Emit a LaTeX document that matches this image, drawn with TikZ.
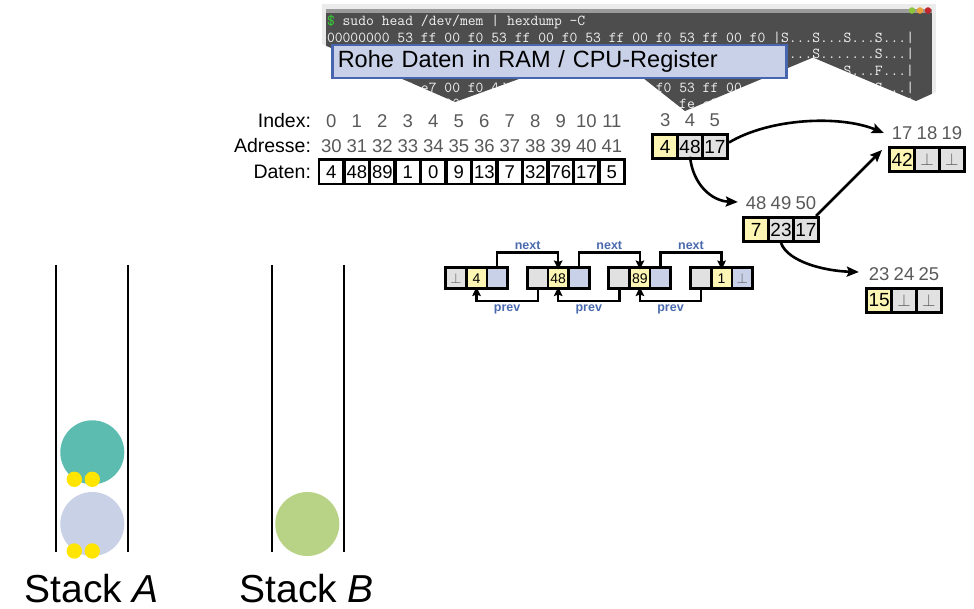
\documentclass[tikz,border=0pt]{standalone}
\usepackage{fontspec}
\setmainfont{Liberation Sans}
\usetikzlibrary{arrows.meta}

\definecolor{termbg}{HTML}{4D4D4D}
\definecolor{termbar}{HTML}{9B9B9B}
\definecolor{termframe}{HTML}{EBEBEB}
\definecolor{termtext}{HTML}{F2F2F2}
\definecolor{termprompt}{HTML}{33D633}
\definecolor{dotgreen}{HTML}{8CC63F}
\definecolor{dotorange}{HTML}{E8A33A}
\definecolor{dotred}{HTML}{C1272D}
\definecolor{tagfill}{HTML}{C9D1E8}
\definecolor{tagborder}{HTML}{4766AE}
\definecolor{numgray}{HTML}{595959}
\definecolor{cellyellow}{HTML}{FCF5B4}
\definecolor{cellgray}{HTML}{E1E1E1}
\definecolor{cellblue}{HTML}{C9D1E8}
\definecolor{linkblue}{HTML}{4A6AAE}
\definecolor{tealball}{HTML}{5DBCB0}
\definecolor{blueball}{HTML}{C9D1E6}
\definecolor{greenball}{HTML}{B8D385}
\definecolor{dotyellow}{HTML}{FFE500}

\newcommand\NilMark{\textcolor{numgray}{$\perp$}}

% memory block of three cells with address labels above
% #1 name, #2 #3 top left, #4-#6 addresses, #7-#9 contents
\newcommand\memblock[9]{%
  \node[cellbar, minimum width=78pt, minimum height=27pt] (#1) at (#2,#3) {};
  \node[blkcell, fill=cellyellow] (#1-a) at (#2+14.15,#3+13.5) {#7};
  \node[blkcell, fill=cellgray]   (#1-b) at (#2+39,#3+13.5) {#8};
  \node[blkcell, fill=cellgray]   (#1-c) at (#2+63.85,#3+13.5) {#9};
  \node[addr] (#1-la) at (#2+14.15,#3-13) {#4};
  \node[addr] (#1-lb) at (#2+39,#3-13) {#5};
  \node[addr] (#1-lc) at (#2+63.85,#3-13) {#6};
}

% doubly linked list element: prev | value | next
% #1 name, #2 left x, #3-#5 contents, #6 #7 fills of outer cells
\newcommand\dlnode[7]{%
  \node[cellbar, minimum width=65pt, minimum height=23.5pt] (#1) at (#2,266.5) {};
  \node[lstcell, fill=#6] (#1-a) at (#2+12,278.25) {#3};
  \node[lstcell, fill=cellyellow] (#1-b) at (#2+32.5,278.25) {#4};
  \node[lstcell, fill=#7] (#1-c) at (#2+53,278.25) {#5};
}

\begin{document}
\begin{tikzpicture}[x=1pt,y=-1pt,
  every node/.style={inner sep=0pt, outer sep=0pt},
  termline/.style={anchor=west, text=termtext, font=\fontsize{15.2pt}{17pt}\selectfont\ttfamily},
  tagbox/.style={draw=tagborder, fill=tagfill, line width=2.5pt, anchor=north west,
    minimum width=454pt, minimum height=33pt, text width=443pt, align=left,
    inner xsep=5.5pt, font=\fontsize{23.5pt}{26pt}\selectfont},
  rowlabel/.style={anchor=east, font=\fontsize{19.5pt}{22pt}\selectfont},
  addr/.style={text=numgray, font=\fontsize{18.5pt}{22pt}\selectfont},
  cellbar/.style={fill=black, anchor=north west},
  datcell/.style={minimum width=22.1pt, minimum height=21.4pt, font=\fontsize{18.5pt}{22pt}\selectfont},
  blkcell/.style={minimum width=22.3pt, minimum height=20.5pt, font=\fontsize{19pt}{22pt}\selectfont},
  lstcell/.style={minimum width=18pt, minimum height=17.5pt, font=\fontsize{14pt}{16pt}\selectfont},
  bigptr/.style={line width=2.6pt, -{Stealth[length=12pt,width=10pt,inset=2pt]}},
  lptr/.style={line width=2.3pt, -{Stealth[length=9pt,width=8.5pt,inset=1.5pt]}},
  linklabel/.style={text=linkblue, font=\fontsize{12.5pt}{14pt}\selectfont\bfseries},
  stackwall/.style={line width=2pt},
  ball/.style={circle, minimum size=64pt},
  dotmark/.style={circle, fill=dotyellow, minimum size=15.4pt},
  stacklabel/.style={font=\fontsize{39pt}{43pt}\selectfont},
]
\useasboundingbox (0,0) rectangle (974,609);

% ---- terminal window with torn lower edge ----
\begin{scope}
  \clip (322,4) -- (936,4) -- (936,92) -- (916,101) -- (813,57.5) -- (685,111)
        -- (605,48) -- (455,102) -- (322,44) -- cycle;
  \fill[termframe] (322,4) rectangle (936,115);
  \fill[termbar] (326,9) rectangle (932,13.5);
  \fill[termbg] (326,13.5) rectangle (932,115);
  \fill[dotgreen]  (912,10.5) circle (3.3pt);
  \fill[dotorange] (920,10.5) circle (3.3pt);
  \fill[dotred]    (928,10.5) circle (3.3pt);
  \node[termline] (t1) at (327,21.5) {{\color{termprompt}\$} sudo head /dev/mem | hexdump -C};
  \node[termline] (t2) at (327,38) {00000000 53 ff 00 f0 53 ff 00 f0 53 ff 00 f0 53 ff 00 f0 |S...S...S...S...|};
  \node[termline] (t3) at (327,54) {00000010 53 ff 00 f0 53 ff 00 f0 c3 e2 00 f0 53 ff 00 f0 |S...S.......S...|};
  \node[termline] (t4) at (327,71) {00000020 a5 fe 00 f0 87 e9 00 f0 53 ff 00 f0 46 e7 00 f0 |........S...F...|};
  \node[termline] (t5) at (327,87.5) {00000030 a5 e7 00 f0 4d f8 00 f0 41 f8 00 f0 53 ff 00 f0 |....M...A...S...|};
  \node[termline] (t6) at (327,104) {00000040 4d f8 00 f0 41 f8 00 f0 59 ec 00 f0 fe e3 00 f0 |M...A...Y.......|};
\end{scope}

\node[tagbox] (tag) at (332.25,45.25) {Rohe Daten in RAM / CPU-Register};

% ---- array in memory ----
\node[rowlabel] (lidx) at (311,121) {Index:};
\node[rowlabel] (ladr) at (311,146) {Adresse:};
\node[rowlabel] (ldat) at (311,172) {Daten:};
\node[cellbar, minimum width=308.5pt, minimum height=27pt] (arr) at (317.5,158.5) {};
\foreach \v [count=\i from 0] in {4,48,89,1,0,9,13,7,32,76,17,5}{
  \pgfmathsetmacro\cx{331.35+25.5*\i}
  \pgfmathtruncatemacro\ad{30+\i}
  \node[datcell, fill=white] (d\i) at (\cx,172) {\v};
  \node[addr] (ix\i) at (\cx,121) {\i};
  \node[addr] (ad\i) at (\cx,146) {\ad};
}

% ---- linked structure of memory blocks ----
\memblock{bA}{651}{133}{3}{4}{5}{4}{48}{17}
\memblock{bB}{888}{146}{17}{18}{19}{42}{\NilMark}{\NilMark}
\memblock{bC}{742}{216}{48}{49}{50}{7}{23}{17}
\memblock{bD}{865}{287}{23}{24}{25}{15}{\NilMark}{\NilMark}

\draw[bigptr] ([shift={(0,-4)}]bA.east) .. controls (770,118) and (840,115) .. ([shift={(-8,0)}]bB-la.west);
\draw[bigptr] (bA-b.south) .. controls (693,185) and (712,201) .. ([shift={(-8,-1)}]bC-la.west);
\draw[bigptr] ([shift={(-4,0)}]bC.north east) -- ([shift={(-6,4)}]bB.north west);
\draw[bigptr] (bC.south) .. controls (788,262) and (825,271) .. ([shift={(-10,-2)}]bD-la.west);

% ---- doubly linked list ----
\dlnode{lA}{444}{\NilMark}{4}{}{cellgray}{cellblue}
\dlnode{lB}{525.7}{}{48}{}{cellgray}{cellblue}
\dlnode{lC}{607.4}{}{89}{}{cellgray}{cellblue}
\dlnode{lD}{689.1}{}{1}{\NilMark}{cellgray}{cellblue}

\draw[lptr] (lA-c.north) -- ++(0,-17) -| node[linklabel, pos=0.25, above=3pt] (nA) {next} (lB-b.north);
\draw[lptr] (lB-c.north) -- ++(0,-17) -| node[linklabel, pos=0.25, above=3pt] (nB) {next} (lC-b.north);
\draw[lptr] (lC-c.north) -- ++(0,-17) -| node[linklabel, pos=0.25, above=3pt] (nC) {next} (lD-b.north);
\draw[lptr] (lB-a.south) -- ++(0,14) -| node[linklabel, pos=0.25, below=4pt] (pA) {prev} (lA-b.south);
\draw[lptr] (lC-a.south) -- ++(0,14) -| node[linklabel, pos=0.25, below=4pt] (pB) {prev} (lB-b.south);
\draw[lptr] (lD-a.south) -- ++(0,14) -| node[linklabel, pos=0.25, below=4pt] (pC) {prev} (lC-b.south);

% ---- two stacks ----
\draw[stackwall] (56,265) -- (56,551.5);
\draw[stackwall] (128.3,265) -- (128.3,551.5);
\draw[stackwall] (271.5,265) -- (271.5,551.5);
\draw[stackwall] (343.5,265) -- (343.5,551.5);

\node[ball, fill=blueball] (a1) at (92.3,524) {};
\node[ball, fill=tealball] (a2) at (92.3,452.3) {};
\node[ball, fill=greenball] (b1) at (307.3,524) {};
\node[dotmark] (a1l) at (74.3,551) {};
\node[dotmark] (a1r) at (92.3,551) {};
\node[dotmark] (a2l) at (74.3,479.3) {};
\node[dotmark] (a2r) at (92.3,479.3) {};

\node[stacklabel] (sA) at (91.7,589) {Stack \textit{A}};
\node[stacklabel] (sB) at (306.7,589) {Stack \textit{B}};
\end{tikzpicture}
\end{document}
